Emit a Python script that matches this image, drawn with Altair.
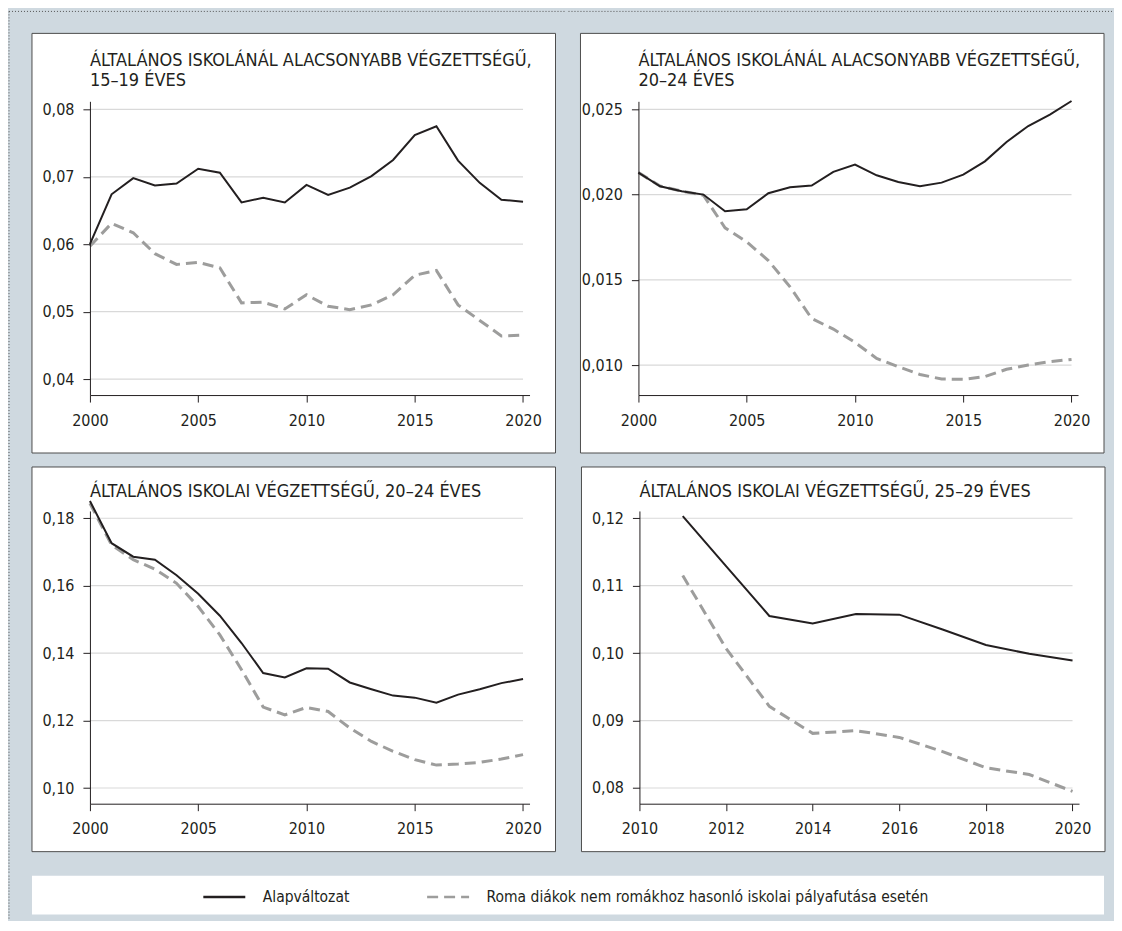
import altair as alt
import pandas as pd

FONT = "Liberation Sans Narrow, DejaVu Sans Condensed, Arial Narrow, sans-serif"
INK = "#231f20"
DASH_COLOR = "#9d9d9c"
GRID_COLOR = "#d9d9d9"
BG = "#cfd9e0"
DOT_COLOR = "#555555"

SERIES = ["Alapváltozat", "Roma diákok nem romákhoz hasonló iskolai pályafutása esetén"]

years_a = list(range(2000, 2021))
years_b = list(range(2011, 2021))

# Panel 1: 15-19 éves, általános iskolánál alacsonyabb
p1_base = [0.0600, 0.0674, 0.0698, 0.0687, 0.0690, 0.0712, 0.0706, 0.0662, 0.0669, 0.0662,
           0.0688, 0.0673, 0.0684, 0.0701, 0.0725, 0.0762, 0.0775, 0.0724, 0.0691, 0.0666, 0.0663]
p1_roma = [0.0597, 0.0631, 0.0617, 0.0586, 0.0570, 0.0573, 0.0565, 0.0513, 0.0514, 0.0504,
           0.0525, 0.0508, 0.0503, 0.0510, 0.0525, 0.0554, 0.0561, 0.0510, 0.0487, 0.0464, 0.0465]

# Panel 2: 20-24 éves, általános iskolánál alacsonyabb
p2_base = [0.02129, 0.02049, 0.02020, 0.02000, 0.01902, 0.01914, 0.02008, 0.02043, 0.02053, 0.02133,
           0.02176, 0.02113, 0.02074, 0.02049, 0.02070, 0.02117, 0.02195, 0.02309, 0.02402, 0.02469, 0.02549]
p2_roma = [0.02129, 0.02050, 0.02020, 0.01996, 0.01805, 0.01723, 0.01613, 0.01459, 0.01273, 0.01211,
           0.01133, 0.01039, 0.00990, 0.00945, 0.00918, 0.00916, 0.00932, 0.00975, 0.01000, 0.01020, 0.01033]

# Panel 3: 20-24 éves, általános iskolai
p3_base = [0.1851, 0.1726, 0.1686, 0.1677, 0.1631, 0.1576, 0.1511, 0.1430, 0.1341, 0.1328,
           0.1355, 0.1354, 0.1313, 0.1293, 0.1274, 0.1268, 0.1253, 0.1277, 0.1293, 0.1311, 0.1323]
p3_roma = [0.1844, 0.1721, 0.1677, 0.1649, 0.1607, 0.1538, 0.1454, 0.1351, 0.1240, 0.1217,
           0.1239, 0.1227, 0.1178, 0.1138, 0.1109, 0.1084, 0.1068, 0.1071, 0.1076, 0.1086, 0.1099]

# Panel 4: 25-29 éves, általános iskolai
p4_base = [0.1203, 0.1129, 0.1055, 0.1044, 0.1058, 0.1057, 0.1035, 0.1012, 0.0999, 0.0989]
p4_roma = [0.1115, 0.1007, 0.0921, 0.0881, 0.0885, 0.0875, 0.0854, 0.0830, 0.0820, 0.0795]

titles = [
    ["ÁLTALÁNOS ISKOLÁNÁL ALACSONYABB VÉGZETTSÉGŰ,", "15–19 ÉVES"],
    ["ÁLTALÁNOS ISKOLÁNÁL ALACSONYABB VÉGZETTSÉGŰ,", "20–24 ÉVES"],
    ["ÁLTALÁNOS ISKOLAI VÉGZETTSÉGŰ, 20–24 ÉVES"],
    ["ÁLTALÁNOS ISKOLAI VÉGZETTSÉGŰ, 25–29 ÉVES"],
]

y_ticks = [
    [0.04, 0.05, 0.06, 0.07, 0.08],
    [0.010, 0.015, 0.020, 0.025],
    [0.10, 0.12, 0.14, 0.16, 0.18],
    [0.08, 0.09, 0.10, 0.11, 0.12],
]
y_domains = [[0.03763, 0.08119], [0.00824, 0.02547], [0.09535, 0.18216], [0.07767, 0.12108]]
y_decimals = [2, 3, 2, 2]
x_ticks_a = [2000, 2005, 2010, 2015, 2020]
x_ticks_b = [2010, 2012, 2014, 2016, 2018, 2020]

PLOT_W = 440
ONE = pd.DataFrame({"k": [0]})


def hdots(x1, x2, y):
    return alt.Chart(ONE).mark_rule(color=DOT_COLOR, strokeDash=[1, 2], strokeWidth=1).encode(
        x=alt.value(x1), x2=alt.value(x2), y=alt.value(y))


def vdots(x, y1, y2):
    return alt.Chart(ONE).mark_rule(color=DOT_COLOR, strokeDash=[1, 2], strokeWidth=1).encode(
        x=alt.value(x), y=alt.value(y1), y2=alt.value(y2))


def panel(title_lines, years, base, roma, ticks, y_domain, decimals, x_domain, x_ticks,
          grid_from, grid_to, height, box_top, box_bottom, title_y, extras):
    df = pd.DataFrame({
        "year": years + years,
        "value": base + roma,
        "series": [SERIES[0]] * len(years) + [SERIES[1]] * len(years),
    })
    grid_df = pd.DataFrame({"tick": ticks})

    xscale = alt.Scale(domain=x_domain, nice=False, zero=False)
    yscale = alt.Scale(domain=y_domain, nice=False, zero=False)
    xaxis = alt.Axis(values=x_ticks, format="d", title=None, grid=False,
                     domainColor=INK, domainWidth=1, tickColor=INK, tickSize=7, tickWidth=1,
                     labelFont=FONT, labelFontSize=16, labelColor=INK, labelPadding=10,
                     labelFlush=False, labelOverlap=False, zindex=1)
    yaxis = alt.Axis(values=ticks, title=None, grid=False,
                     labelExpr=f"replace(format(datum.value, '.{decimals}f'), '.', ',')",
                     domainColor=INK, domainWidth=1, tickColor=INK, tickSize=7, tickWidth=1,
                     labelFont=FONT, labelFontSize=16, labelColor=INK, labelPadding=9,
                     labelOverlap=False, zindex=1)

    box = alt.Chart(ONE).mark_rect(fill="white", stroke="#4d4d4d", strokeWidth=1).encode(
        x=alt.value(-58), x2=alt.value(PLOT_W + 26),
        y=alt.value(box_top), y2=alt.value(box_bottom),
    )
    grid = alt.Chart(grid_df).mark_rule(color=GRID_COLOR, strokeWidth=1.2).encode(
        x=alt.XDatum(grid_from, scale=xscale, axis=xaxis),
        x2=alt.X2Datum(grid_to),
        y=alt.Y("tick:Q", scale=yscale, axis=yaxis),
    )
    dashed = alt.Chart(df).transform_filter(
        alt.datum.series == SERIES[1]
    ).mark_line(color=DASH_COLOR, strokeWidth=3, strokeDash=[11, 6]).encode(
        x=alt.X("year:Q", scale=xscale, axis=xaxis),
        y=alt.Y("value:Q", scale=yscale, axis=yaxis),
    )
    solid = alt.Chart(df).transform_filter(
        alt.datum.series == SERIES[0]
    ).mark_line(color=INK, strokeWidth=2).encode(
        x=alt.X("year:Q", scale=xscale, axis=xaxis),
        y=alt.Y("value:Q", scale=yscale, axis=yaxis),
    )
    texts = []
    for i, line in enumerate(title_lines):
        texts.append(alt.Chart(ONE).mark_text(
            align="left", baseline="alphabetic", font=FONT, fontSize=18, color=INK
        ).encode(x=alt.value(0), y=alt.value(title_y + 20 * i), text=alt.value(line)))
    return alt.layer(*extras, box, grid, dashed, solid, *texts).properties(width=PLOT_W, height=height)


p1 = panel(titles[0], years_a, p1_base, p1_roma, y_ticks[0], y_domains[0], y_decimals[0],
           [2000, 2020.3], x_ticks_a, 2000, 2020, 294, -68, 352, -35,
           [vdots(-81, -90, 364), hdots(-81, 477, -90)])
p2 = panel(titles[1], years_a, p2_base, p2_roma, y_ticks[1], y_domains[1], y_decimals[1],
           [2000, 2020.3], x_ticks_a, 2000, 2020, 294, -68, 352, -35,
           [hdots(-70, 475, -90)])
p3 = panel(titles[2], years_a, p3_base, p3_roma, y_ticks[2], y_domains[2], y_decimals[2],
           [2000, 2020.3], x_ticks_a, 2000, 2020, 293, -44, 341, -14,
           [vdots(-81, -44, 363)])
p4 = panel(titles[3], years_b, p4_base, p4_roma, y_ticks[3], y_domains[3], y_decimals[3],
           [2010, 2020.15], x_ticks_b, 2010, 2020, 293, -44, 341, -14, [])

legend_df = pd.DataFrame({"series": SERIES})
leg = dict(orient="none", legendX=112, legendY=-1, direction="horizontal", title=None,
           symbolType="stroke", symbolSize=1764, symbolStrokeWidth=2.5,
           labelFont=FONT, labelFontSize=15.5, labelColor=INK, labelOffset=16, labelLimit=1000,
           columnPadding=72, padding=0)
legend_box = alt.Chart(ONE).mark_rect(fill="white").encode(
    x=alt.value(-58), x2=alt.value(1015), y=alt.value(0), y2=alt.value(39))
legend_lines = alt.Chart(legend_df).transform_filter("false").mark_line().encode(
    color=alt.Color("series:N", scale=alt.Scale(domain=SERIES, range=[INK, DASH_COLOR]),
                    legend=alt.Legend(**leg)),
    strokeDash=alt.StrokeDash("series:N", scale=alt.Scale(domain=SERIES, range=[[1, 0], [11, 6]]),
                              legend=alt.Legend(**leg)),
)
legend_chart = alt.layer(vdots(-81, 0, 44), legend_box, legend_lines).properties(width=1015, height=39)

top_row = alt.hconcat(p1, p2, spacing=0)
bottom_row = alt.hconcat(p3, p4, spacing=24)
panels = alt.vconcat(top_row, bottom_row, spacing=0)

chart = alt.vconcat(panels, legend_chart, spacing=0).resolve_scale(
    color="independent", strokeDash="independent"
).resolve_legend(
    color="independent", strokeDash="independent"
).properties(
    padding={"left": 0, "top": 2, "right": 0, "bottom": 0}
).configure(
    background=BG
).configure_view(
    stroke=None, fill="white"
)

chart.save("out.html", embed_options={"renderer": "svg", "actions": False})
